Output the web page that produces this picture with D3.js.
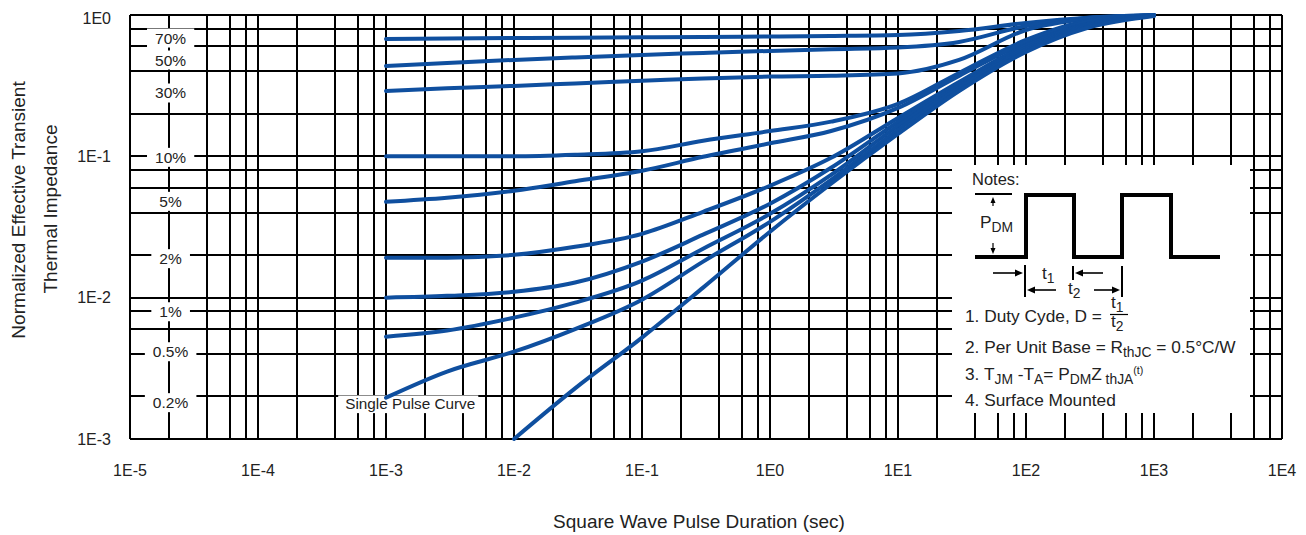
<!DOCTYPE html>
<html>
<head>
<meta charset="utf-8">
<script src="https://cdn.jsdelivr.net/npm/d3@7"></script>
<style>
  body { margin: 0; background: #fff; }
  text { font-family: "Liberation Sans", Arial, sans-serif; fill: #222; }
</style>
</head>
<body>
<svg id="chart"></svg>
<script>
// ---------------- data ----------------
const tDuty = [0.001, 0.003, 0.01, 0.03, 0.1, 0.3, 1, 3, 10, 30, 100, 300, 1000]
const duty70 = [0.677, 0.682, 0.688, 0.691, 0.696, 0.699, 0.705, 0.711, 0.722, 0.771, 0.878, 0.957, 0.995]
const duty50 = [0.436, 0.458, 0.481, 0.501, 0.522, 0.539, 0.557, 0.573, 0.589, 0.645, 0.836, 0.952, 0.995]
const duty30 = [0.290, 0.303, 0.315, 0.328, 0.342, 0.356, 0.367, 0.372, 0.386, 0.481, 0.783, 0.937, 0.995]
const duty10 = [0.1, 0.1, 0.1, 0.1025, 0.1085, 0.129, 0.151, 0.176, 0.235, 0.389, 0.666, 0.907, 0.995]
const duty5 = [0.0477, 0.0509, 0.0571, 0.0666, 0.079, 0.0992, 0.1236, 0.151, 0.220, 0.371, 0.645, 0.893, 0.995]
const duty2 = [0.0192, 0.0192, 0.0201, 0.0229, 0.0283, 0.0405, 0.0619, 0.0976, 0.187, 0.336, 0.614, 0.864, 0.995]
const duty1 = [0.0100, 0.0103, 0.0110, 0.0128, 0.0180, 0.0279, 0.0462, 0.0830, 0.175, 0.325, 0.604, 0.850, 0.995]
const duty05 = [0.0053, 0.00585, 0.00722, 0.00922, 0.0132, 0.0222, 0.0392, 0.0740, 0.164, 0.315, 0.585, 0.836, 0.995]
const duty02 = [0.00196, 0.0030, 0.00415, 0.0060, 0.00968, 0.0180, 0.0344, 0.0682, 0.154, 0.305, 0.566, 0.823, 0.99]
const tSingle = [0.01, 0.03, 0.1, 0.3, 1, 3, 10, 30, 100, 300, 1000]
const singlePulse = [0.001, 0.00228, 0.00522, 0.01177, 0.0293, 0.064, 0.144, 0.290, 0.548, 0.809, 0.984]

// duty cycle labels on the left and where they sit (value on the y axis)
const dutyLabels = ['70%', '50%', '30%', '10%', '5%', '2%', '1%', '0.5%', '0.2%']
const dutyLabelAt = [0.688, 0.481, 0.281, 0.0985, 0.0481, 0.0189, 0.00796, 0.00415, 0.00181]

const xTicks = [1e-5, 1e-4, 1e-3, 1e-2, 1e-1, 1, 10, 100, 1000, 10000]
const xTickLabels = ['1E-5', '1E-4', '1E-3', '1E-2', '1E-1', '1E0', '1E1', '1E2', '1E3', '1E4']
const yTicks = [1e-3, 1e-2, 1e-1, 1]
const yTickLabels = ['1E-3', '1E-2', '1E-1', '1E0']
const gridSteps = [1, 2, 4, 6, 8]

// ---------------- setup ----------------
const WIDTH = 1306
const HEIGHT = 535
const BLUE = '#0f4f9f'
const NOTE_FS = 17.3

const svg = d3.select('#chart').attr('width', WIDTH).attr('height', HEIGHT)

const x = d3.scaleLog().domain([1e-5, 1e4]).range([130, 1282])
const y = d3.scaleLog().domain([1e-3, 1]).range([439, 15])

// grid values: 1,2,4,6,8 per decade
let xGrid = []
for (let e = -5; e < 4; e++) gridSteps.forEach(s => xGrid.push(s * Math.pow(10, e)))
xGrid.push(1e4)
let yGrid = []
for (let e = -3; e < 0; e++) gridSteps.forEach(s => yGrid.push(s * Math.pow(10, e)))
yGrid.push(1)

const grid = svg.append('g').attr('shape-rendering', 'crispEdges')
grid.selectAll('.vline').data(xGrid).enter().append('line')
  .attr('x1', d => x(d)).attr('x2', d => x(d))
  .attr('y1', y(1)).attr('y2', y(1e-3))
  .attr('stroke', '#000').attr('stroke-width', 2)
grid.selectAll('.hline').data(yGrid).enter().append('line')
  .attr('x1', x(1e-5)).attr('x2', x(1e4))
  .attr('y1', d => y(d)).attr('y2', d => y(d))
  .attr('stroke', '#000').attr('stroke-width', 2)

// tick labels
svg.append('g').selectAll('text').data(xTicks).enter().append('text')
  .attr('x', d => x(d)).attr('y', 476)
  .attr('text-anchor', 'middle').attr('font-size', 16)
  .text((d, i) => xTickLabels[i])
svg.append('g').selectAll('text').data(yTicks).enter().append('text')
  .attr('x', 111).attr('y', d => y(d) + (d === 1 ? 3 : 0)).attr('dy', '0.36em')
  .attr('text-anchor', 'end').attr('font-size', 16)
  .text((d, i) => yTickLabels[i])

// axis titles
svg.append('text').attr('x', 699).attr('y', 528)
  .attr('text-anchor', 'middle').attr('font-size', 19)
  .text('Square Wave Pulse Duration (sec)')
svg.append('text').attr('transform', 'translate(25,210) rotate(-90)')
  .attr('text-anchor', 'middle').attr('font-size', 19)
  .text('Normalized Effective Transient')
svg.append('text').attr('transform', 'translate(57,209) rotate(-90)')
  .attr('text-anchor', 'middle').attr('font-size', 19)
  .text('Thermal Impedance')

// duty cycle labels with white boxes cutting the grid
const lab = svg.append('g')
dutyLabels.forEach((l, i) => {
  const g = lab.append('g')
  const rect = g.append('rect').attr('fill', '#fff')
  const t = g.append('text').attr('x', x(2e-5) + 2).attr('y', y(dutyLabelAt[i]))
    .attr('dy', '0.36em').attr('text-anchor', 'middle').attr('font-size', 15.5).text(l)
  const b = t.node().getBBox()
  rect.attr('x', b.x - 8).attr('y', b.y - 1).attr('width', b.width + 16).attr('height', b.height + 2)
})

// single pulse label
const sp = svg.append('g')
const spRect = sp.append('rect').attr('fill', '#fff')
const spText = sp.append('text').attr('x', x(4.8e-4)).attr('y', y(0.00178)).attr('dy', '0.36em')
  .attr('font-size', 15.3).text('Single Pulse Curve')
const sb = spText.node().getBBox()
spRect.attr('x', sb.x - 7).attr('y', y(0.002) - 1).attr('width', sb.width + 10).attr('height', sb.y + sb.height - y(0.002) + 2)

// notes box
svg.append('rect').attr('x', 952).attr('y', 165).attr('width', 298).attr('height', 248).attr('fill', '#fff')

// ---------------- curves ----------------
const line = d3.line()
  .x(d => x(d[0])).y(d => y(d[1]))
  .curve(d3.curveMonotoneX)

const series = [duty70, duty50, duty30, duty10, duty5, duty2, duty1, duty05, duty02]
svg.append('g').selectAll('path').data(series).enter().append('path')
  .attr('d', s => line(s.map((v, i) => [tDuty[i], v])))
  .attr('fill', 'none').attr('stroke', BLUE).attr('stroke-width', 4).attr('stroke-linecap', 'round')
svg.append('path')
  .attr('d', line(singlePulse.map((v, i) => [tSingle[i], v])))
  .attr('fill', 'none').attr('stroke', BLUE).attr('stroke-width', 4).attr('stroke-linecap', 'round')

// ---------------- notes ----------------
const notes = svg.append('g')
notes.append('text').attr('x', 972).attr('y', 185).attr('font-size', NOTE_FS - 0.8).text('Notes:')

// square wave
notes.append('path')
  .attr('d', 'M975,257H1026V195H1074V257H1122V195H1171V257H1220')
  .attr('fill', 'none').attr('stroke', '#000').attr('stroke-width', 4)
notes.append('line').attr('x1', 975).attr('x2', 1012).attr('y1', 194).attr('y2', 194)
  .attr('stroke', '#000').attr('stroke-width', 2)

function hArrow(x1, x2, yy) {
  const dir = x2 > x1 ? 1 : -1
  notes.append('line').attr('x1', x1).attr('x2', x2 - dir * 4).attr('y1', yy).attr('y2', yy)
    .attr('stroke', '#000').attr('stroke-width', 1.6)
  notes.append('path').attr('d', `M${x2},${yy}L${x2 - dir * 8},${yy - 3.5}L${x2 - dir * 8},${yy + 3.5}Z`).attr('fill', '#000')
}
function vArrow(xx, y1, y2) {
  const dir = y2 > y1 ? 1 : -1
  notes.append('line').attr('x1', xx).attr('x2', xx).attr('y1', y1).attr('y2', y2 - dir * 3)
    .attr('stroke', '#000').attr('stroke-width', 1.2)
  notes.append('path').attr('d', `M${xx},${y2}L${xx - 2.5},${y2 - dir * 6}L${xx + 2.5},${y2 - dir * 6}Z`).attr('fill', '#000')
}
function bar(xx, y1, y2) {
  notes.append('line').attr('x1', xx).attr('x2', xx).attr('y1', y1).attr('y2', y2)
    .attr('stroke', '#000').attr('stroke-width', 2)
}

vArrow(993, 206, 197)
vArrow(993, 243, 254)
hArrow(993, 1023, 273)
bar(1025, 265, 297)
bar(1073, 266, 280)
hArrow(1103, 1075, 273)
hArrow(1056, 1027, 290)
hArrow(1094, 1120, 290)
bar(1122, 266, 297)

// text with sub/superscripts
function rich(xx, yy, parts, size) {
  const t = notes.append('text').attr('x', xx).attr('y', yy).attr('font-size', size)
  let off = 0
  parts.forEach(p => {
    const target = p[1] === 'sub' ? 4 : p[1] === 'sup' ? -6 : 0
    const fs = p[1] === 'sub' ? size * 0.8 : p[1] === 'sup' ? size * 0.62 : size
    t.append('tspan').attr('dy', target - off).attr('font-size', fs).text(p[0])
    off = target
  })
  return t
}

rich(980, 228, [['P'], ['DM', 'sub']], NOTE_FS)
rich(1042, 279, [['t'], ['1', 'sub']], NOTE_FS)
rich(1068, 294, [['t'], ['2', 'sub']], NOTE_FS)

rich(965, 322, [['1. Duty Cyde, D = ']], NOTE_FS)
rich(1111, 308, [['t'], ['1', 'sub']], NOTE_FS)
notes.append('line').attr('x1', 1110).attr('x2', 1128).attr('y1', 314.5).attr('y2', 314.5)
  .attr('stroke', '#000').attr('stroke-width', 1.2)
rich(1111, 327, [['t'], ['2', 'sub']], NOTE_FS)

rich(965, 353, [['2. Per Unit Base = R'], ['thJC', 'sub'], [' = 0.5°C/W']], NOTE_FS)
rich(965, 380, [['3. T'], ['JM', 'sub'], [' -T'], ['A', 'sub'], ['= P'], ['DM', 'sub'], ['Z'], [' thJA', 'sub'], ['(t)', 'sup']], NOTE_FS)
rich(965, 406, [['4. Surface Mounted']], NOTE_FS)
</script>
</body>
</html>
